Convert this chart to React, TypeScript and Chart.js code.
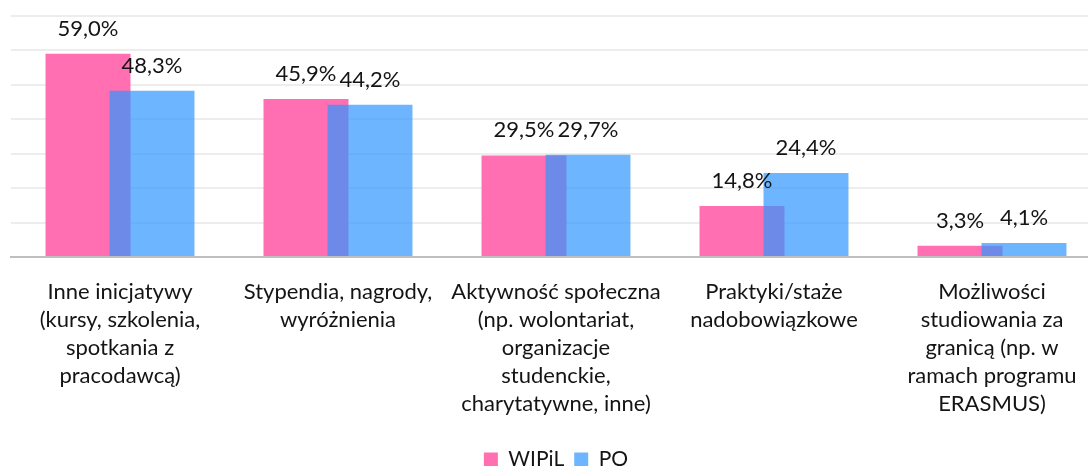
import React, { useEffect, useRef } from "react";
import { Chart, registerables } from "chart.js";

Chart.register(...registerables);

const FONT = "Lato";

const categories: string[][] = [
  ["Inne inicjatywy", "(kursy, szkolenia,", "spotkania z", "pracodawcą)"],
  ["Stypendia, nagrody,", "wyróżnienia"],
  ["Aktywność społeczna", "(np. wolontariat,", "organizacje", "studenckie,", "charytatywne, inne)"],
  ["Praktyki/staże", "nadobowiązkowe"],
  ["Możliwości", "studiowania za", "granicą (np. w", "ramach programu", "ERASMUS)"],
];
const seriesNames = ["WIPiL", "PO"];
const wipilValues = [59.0, 45.9, 29.5, 14.8, 3.3];
const poValues = [48.3, 44.2, 29.7, 24.4, 4.1];
const yMin = 0;
const yMax = 70;
const yStep = 10;

const fmt = (v: number) => v.toFixed(1).replace(".", ",") + "%";

const drawOrderPlugin = {
  id: "drawOrder",
  beforeDatasetsDraw(chart: any) {
    const metas = chart.getSortedVisibleDatasetMetas();
    for (const m of metas) m.controller.draw();
    return false;
  },
};

const valueLabelPlugin = {
  id: "valueLabels",
  afterDraw(chart: any) {
    const ctx = chart.ctx;
    ctx.save();
    ctx.font = `22px ${FONT}`;
    ctx.fillStyle = "#141414";
    ctx.textAlign = "center";
    ctx.textBaseline = "alphabetic";
    chart.data.datasets.forEach((ds: any, i: number) => {
      const meta = chart.getDatasetMeta(i);
      meta.data.forEach((el: any, j: number) => {
        ctx.fillText(fmt(ds.data[j]), el.x, el.y - 18);
      });
    });
    ctx.restore();
  },
};

export default function App() {
  const ref = useRef<HTMLCanvasElement | null>(null);
  useEffect(() => {
    if (!ref.current) return;
    const chart = new Chart(ref.current, {
      type: "bar",
      data: {
        labels: categories,
        datasets: [
          {
            label: seriesNames[0],
            data: wipilValues,
            backgroundColor: "rgb(255,111,178)",
            borderWidth: 0,
          },
          {
            label: seriesNames[1],
            data: poValues,
            backgroundColor: "rgba(49,149,255,0.7)",
            borderWidth: 0,
          },
        ],
      },
      options: {
        responsive: false,
        animation: false,
        devicePixelRatio: 1,
        categoryPercentage: 0.587,
        barPercentage: 1.328,
        layout: { padding: { top: 16, left: 11, right: 0, bottom: 0 } },
        plugins: {
          legend: {
            position: "bottom",
            labels: {
              boxWidth: 14,
              boxHeight: 14,
              padding: 10,
              color: "#141414",
              font: { family: FONT, size: 21 },
            },
          },
          tooltip: { enabled: false },
        },
        scales: {
          x: {
            grid: { display: false },
            border: { display: true, color: "#bfbfbf", width: 2 },
            ticks: {
              color: "#141414",
              font: { family: FONT, size: 22, lineHeight: 1.273 },
              padding: 13,
              maxRotation: 0,
              autoSkip: false,
            },
            afterFit: (scale: any) => {
              scale.height = 182;
            },
          },
          y: {
            min: yMin,
            max: yMax,
            ticks: { display: false, stepSize: yStep },
            grid: { color: "#ededed", lineWidth: 2, drawTicks: false },
            border: { display: false },
          },
        },
      },
      plugins: [drawOrderPlugin, valueLabelPlugin],
    });
    return () => chart.destroy();
  }, []);

  return (
    <div
      style={{
        position: "absolute",
        left: 0,
        top: 0,
        width: 1088,
        height: 466,
        overflow: "hidden",
        background: "#fff",
      }}
    >
      <canvas ref={ref} width={1101} height={480} style={{ display: "block" }} />
    </div>
  );
}
